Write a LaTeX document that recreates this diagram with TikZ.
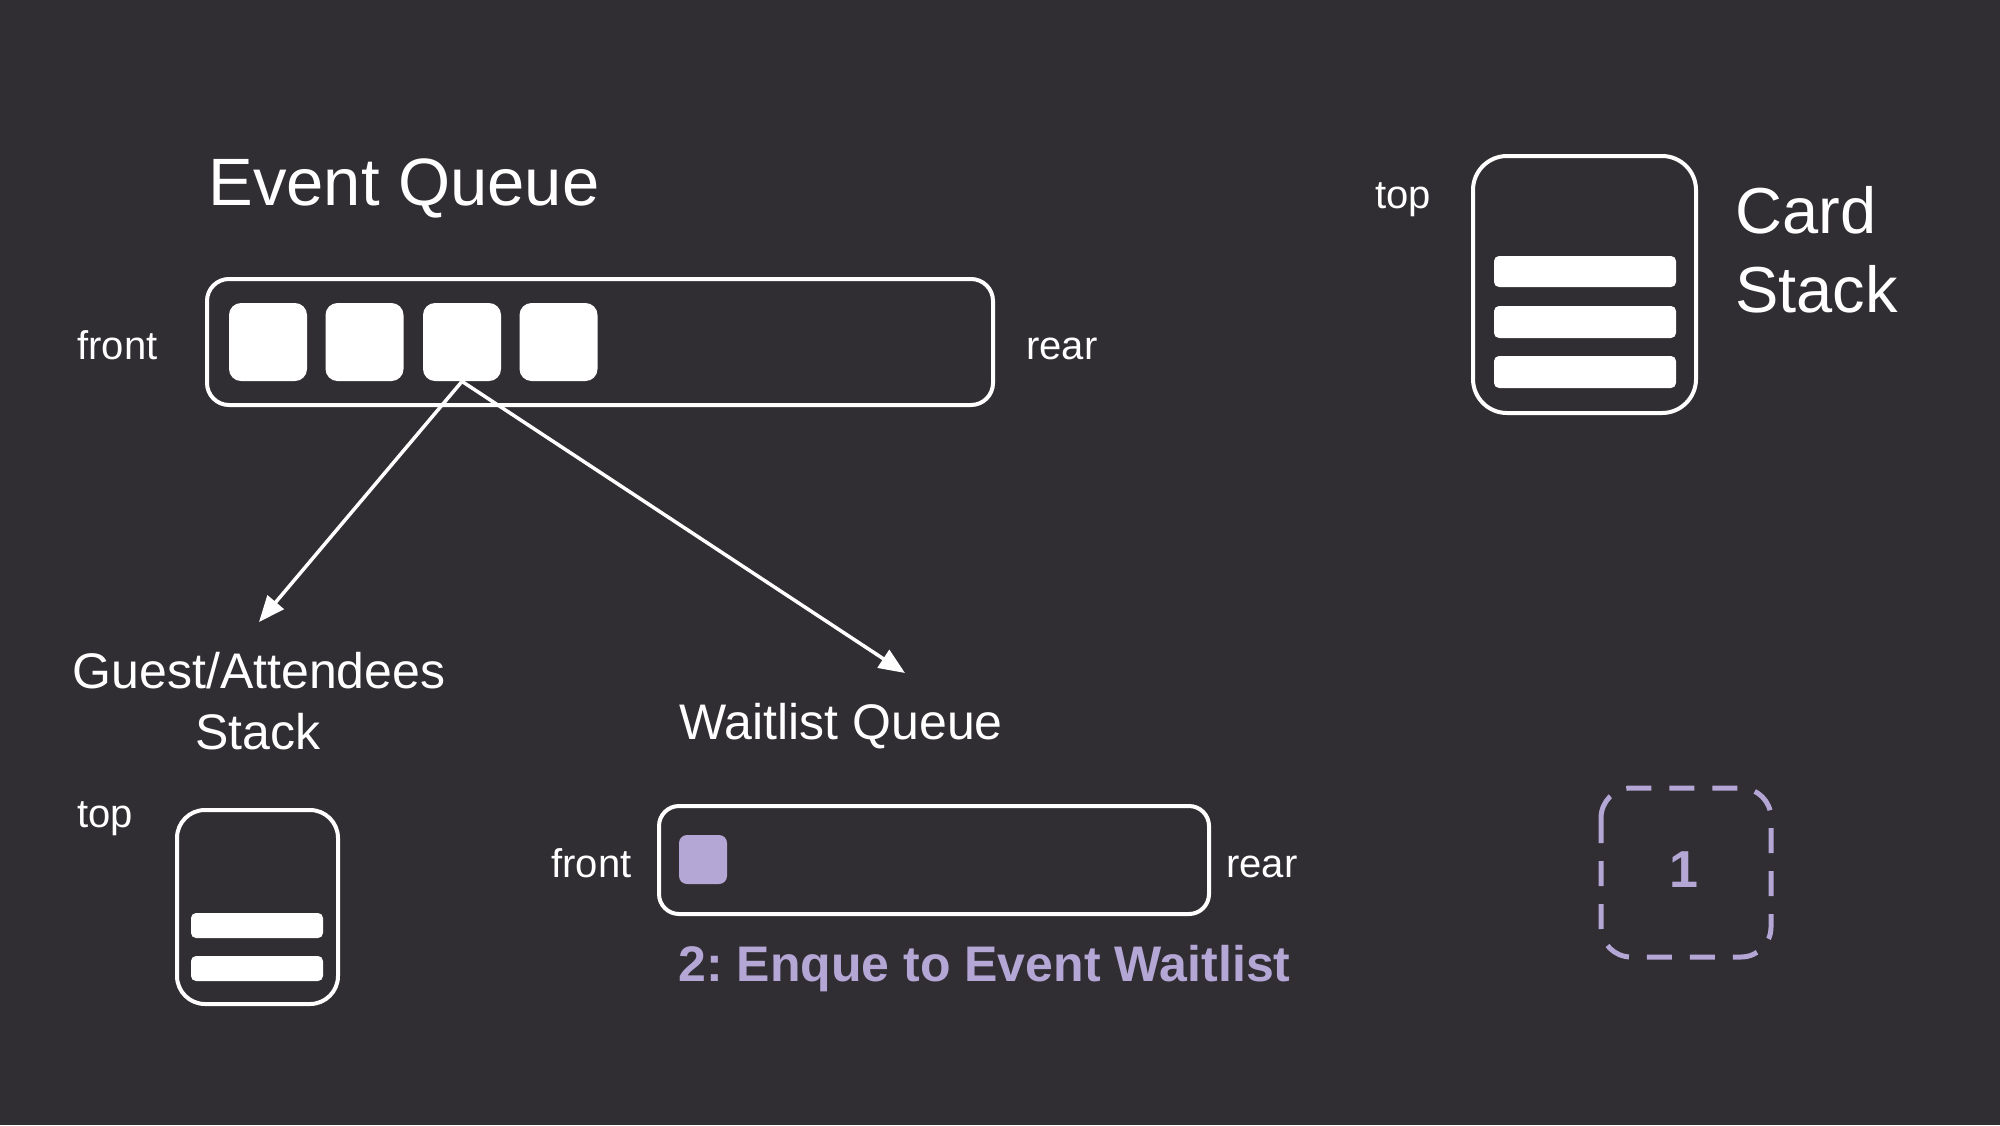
\documentclass[tikz,border=0pt]{standalone}
\usepackage{fontspec}
\setmainfont{Liberation Sans}
\usetikzlibrary{arrows.meta}
\definecolor{bg}{HTML}{302E33}
\definecolor{lav}{HTML}{B4A7D6}
\frenchspacing
\begin{document}
\begin{tikzpicture}[x=0.5pt,y=-0.5pt,
  frame/.style={draw=white,line width=2pt,rounded corners=#1},
  lbl/.style={text=white,inner sep=0pt,font=\fontsize{20}{24}\selectfont},
  title/.style={text=white,inner sep=0pt,font=\fontsize{33.5}{40}\selectfont},
  cardtitle/.style={text=white,inner sep=0pt,font=\fontsize{32.5}{39}\selectfont},
  head/.style={text=white,inner sep=0pt,font=\fontsize{25}{30}\selectfont},
  note/.style={text=lav,inner sep=0pt,font=\bfseries\fontsize{25}{30}\selectfont},
  slot/.style={fill=white,rounded corners=6pt,minimum width=39pt,minimum height=39pt,inner sep=0pt},
  bar/.style={fill=white,rounded corners=2.5pt},
  arr/.style={draw=white,line width=1.75pt,-{Triangle[length=13pt,width=10.5pt]}},
  dashbox/.style={draw=lav,line width=2.5pt,dash pattern=on 12.5pt off 9pt,rounded corners=15pt}
]
\useasboundingbox (0,0) rectangle (2000,1125);
\fill[bg] (0,0) rectangle (2000,1125);

% Event queue
\node[title,anchor=base west] (eqtitle) at (208,205) {Event Queue};
\draw[frame=11pt] (207,279) rectangle (993,405);
\node[lbl,anchor=base west] (eqfront) at (77,359) {front};
\node[lbl,anchor=base west] (eqrear) at (1026,359) {rear};
\node[slot] (q1) at (268,342) {};
\node[slot] (q2) at (364.5,342) {};
\node[slot] (q3) at (462,342) {};
\node[slot] (q4) at (558.5,342) {};

% arrows
\coordinate (gtip) at (259,622);
\coordinate (wtip) at (905,673);
\draw[arr] (q3.south) -- (gtip);
\draw[arr] (q3.south) -- (wtip);

% Card stack
\node[lbl,anchor=base west] (cardtop) at (1375,208) {top};
\draw[frame=17pt] (1473,156) rectangle (1696,413);
\fill[bar] (1494,256) rectangle (1676,287);
\fill[bar] (1494,306) rectangle (1676,338);
\fill[bar] (1494,356) rectangle (1676,388);
\node[cardtitle,anchor=base west] (card1) at (1735,233) {Card};
\node[cardtitle,anchor=base west] (card2) at (1735,312) {Stack};

% Guest stack
\node[head,anchor=base] (guest1) at (259,688) {Guest/Attendees};
\node[head,anchor=base] (guest2) at (258,749) {Stack};
\node[lbl,anchor=base west] (guesttop) at (77,827) {top};
\draw[frame=14pt] (177,810) rectangle (338,1004);
\fill[bar] (191,913) rectangle (323,938);
\fill[bar] (191,956) rectangle (323,981);

% Waitlist queue
\node[head,anchor=base west] (wqtitle) at (679,739) {Waitlist Queue};
\draw[frame=10pt] (659,806) rectangle (1209,914);
\node[lbl,anchor=base west] (wqfront) at (551,877) {front};
\node[lbl,anchor=base west] (wqrear) at (1226,877) {rear};
\fill[lav,rounded corners=4pt] (679,835) rectangle (727,884);
\node[note,anchor=base west] (step2) at (678,981) {2: Enque to Event Waitlist};

% Step 1 marker
\draw[dashbox] (1601,788) rectangle (1771,957);
\node[text=lav,inner sep=0pt,font=\bfseries\fontsize{26}{31}\selectfont,anchor=base] (one) at (1684,887) {1};
\end{tikzpicture}
\end{document}
